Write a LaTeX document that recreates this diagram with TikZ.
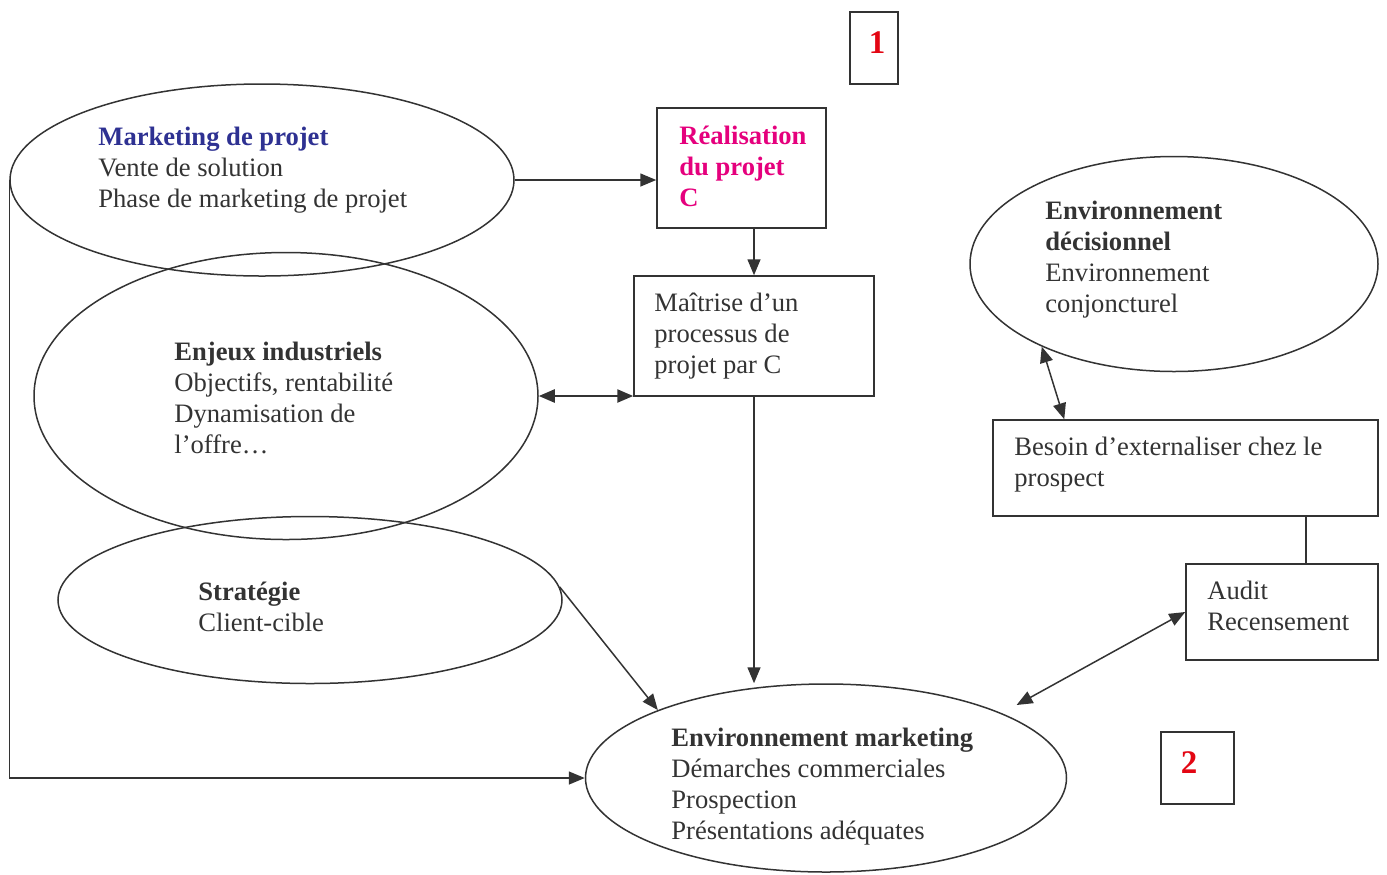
\documentclass[tikz,border=0pt]{standalone}
\usepackage{fontspec}
\setmainfont{Liberation Serif}
\usetikzlibrary{arrows.meta,shapes.geometric,calc}
\definecolor{trait}{HTML}{333333}
\definecolor{bleu}{HTML}{2E3192}
\definecolor{rose}{HTML}{E5007D}
\definecolor{rouge}{HTML}{E30613}
\tikzset{
  oval/.style={draw=trait, ellipse, line width=0.75pt, inner sep=0pt},
  cadre/.style={draw=trait, rectangle, line width=0.75pt, inner sep=0pt},
  txt/.style={anchor=north west, align=left, inner sep=0pt, text=trait,
    font=\fontsize{13.3}{15.5}\selectfont},
  chiffre/.style={inner sep=0pt, text=rouge, font=\fontsize{16.5}{18}\selectfont\bfseries},
  fleche/.style={draw=trait, line width=0.75pt, -{Triangle[length=8pt,width=6.5pt]}},
  fleches/.style={draw=trait, line width=0.75pt,
    {Triangle[length=8pt,width=6.5pt]}-{Triangle[length=8pt,width=6.5pt]}},
}
\begin{document}
\begin{tikzpicture}[x=0.5pt,y=-0.5pt]
  \useasboundingbox (0,0) rectangle (1387,874);
  % ellipses
  \node[oval, minimum width=252pt, minimum height=96pt] (mkt) at (262,180) {};
  \node[oval, minimum width=252pt, minimum height=143.5pt] (enj) at (286,396) {};
  \node[oval, minimum width=252pt, minimum height=83.5pt] (strat) at (310,600) {};
  \node[oval, minimum width=240.5pt, minimum height=94pt] (envm) at (826,778) {};
  \node[oval, minimum width=204pt, minimum height=107.5pt] (envd) at (1174,264) {};
  % cadres
  \node[cadre, minimum width=24pt, minimum height=36pt] (un) at (874,48) {};
  \node[cadre, minimum width=36.5pt, minimum height=36pt] (deux) at (1197.5,768) {};
  \node[cadre, minimum width=84.5pt, minimum height=60pt] (real) at (741.5,168) {};
  \node[cadre, minimum width=120pt, minimum height=60pt] (mait) at (754,336) {};
  \node[cadre, minimum width=192.5pt, minimum height=48pt] (besoin) at (1185.5,468) {};
  \node[cadre, minimum width=96pt, minimum height=48pt] (audit) at (1282,612) {};
  % textes
  \node[chiffre] (tun) at (877,43) {1};
  \node[chiffre] (tdeux) at (1189,763) {2};
  \node[txt] (tmkt) at (98,127) {\textcolor{bleu}{\bfseries Marketing de projet}\\
    Vente de solution\\Phase de marketing de projet};
  \node[txt, text=rose, font=\fontsize{13.3}{15.5}\selectfont\bfseries] (treal) at (679,126)
    {Réalisation\\du projet\\C};
  \node[txt] (tmait) at (654,293) {Maîtrise d’un\\processus de\\projet par C};
  \node[txt] (tenj) at (174,342) {\textbf{Enjeux industriels}\\Objectifs, rentabilité\\
    Dynamisation de\\l’offre…};
  \node[txt] (tstrat) at (198,582) {\textbf{Stratégie}\\Client-cible};
  \node[txt] (tenvd) at (1045,201) {\textbf{Environnement}\\\textbf{décisionnel}\\
    Environnement\\conjoncturel};
  \node[txt] (tbesoin) at (1014,437) {Besoin d’externaliser chez le\\prospect};
  \node[txt] (taudit) at (1207,581) {Audit\\Recensement};
  \node[txt] (tenvm) at (671,728) {\textbf{Environnement marketing}\\Démarches commerciales\\
    Prospection\\Présentations adéquates};
  % liaisons
  \draw[fleche] (mkt.east) -- (mkt.east -| real.west);
  \draw[fleche] (mait.north |- real.south) -- (mait.north);
  \draw[fleches, line width=1.2pt] (enj.east) -- (enj.east -| mait.west);
  \draw[fleche] (mait.south) -- (mait.south |- envm.north);
  \draw[fleche] (strat.3) -- (envm.158);
  \draw[fleche] (mkt.west) |- (envm.west);
  \draw[fleches] (envd.212) -- ($(besoin.north west)+(72,0)$);
  \draw[draw=trait, line width=0.75pt] ($(audit.north)+(24,0)$) -- ($(besoin.south)+(120.5,0)$);
  \draw[fleches] ($(envm.north east)+(20,-6)$) -- (audit.west);
\end{tikzpicture}
\end{document}
